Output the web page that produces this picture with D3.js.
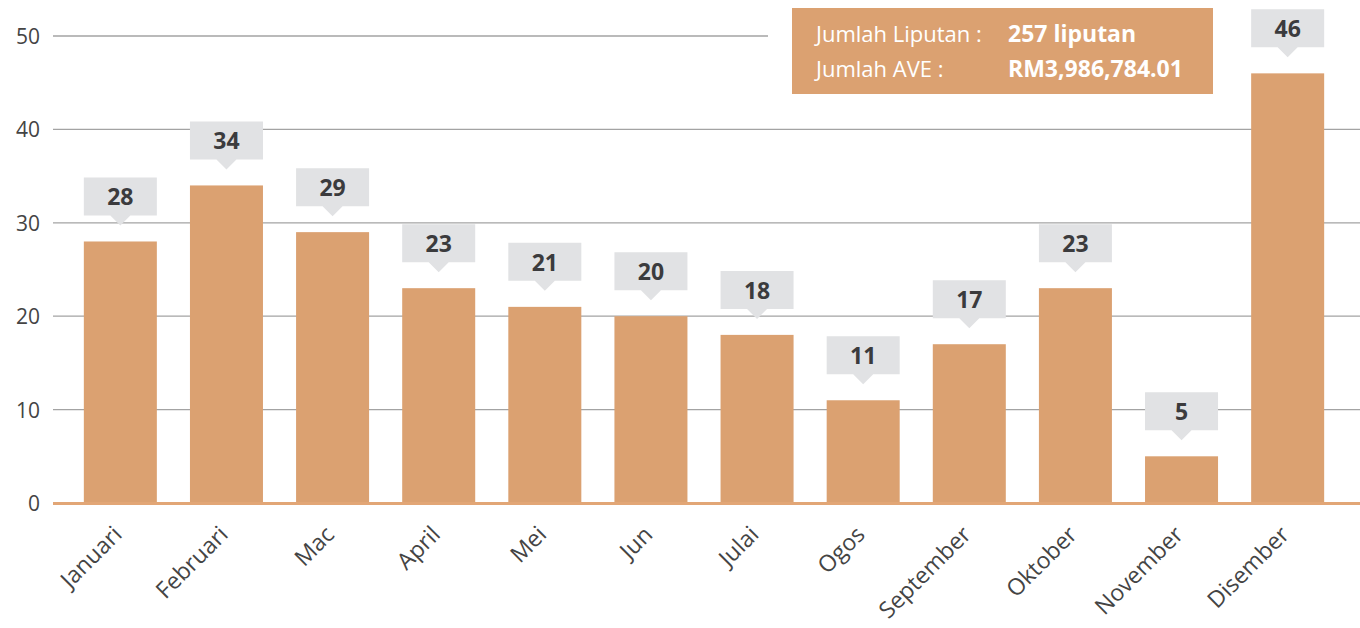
<!DOCTYPE html>
<html>
<head>
<meta charset="utf-8">
<script src="https://cdn.jsdelivr.net/npm/d3@7"></script>
<style>
  html, body { margin: 0; padding: 0; background: #fff; }
  svg { display: block; font-family: "Open Sans", "Noto Sans", sans-serif; }
</style>
</head>
<body>
<svg id="chart" width="1360" height="628"></svg>
<script>
// Monthly coverage counts
const months = ["Januari", "Februari", "Mac", "April", "Mei", "Jun", "Julai", "Ogos", "September", "Oktober", "November", "Disember"];
const coverage = [28, 34, 29, 23, 21, 20, 18, 11, 17, 23, 5, 46];
const yTicks = [0, 10, 20, 30, 40, 50];
const summaryLabels = ["Jumlah Liputan :", "Jumlah AVE :"];
const summaryValues = ["257 liputan", "RM3,986,784.01"];

const data = months.map((m, i) => ({ month: m, value: coverage[i] }));

const svg = d3.select("#chart");
const W = 1360, H = 628;
const plotLeft = 53, plotRight = 1360, plotTop = 36, plotBottom = 503;

const x = d3.scaleBand()
  .domain(months)
  .range([52, 1356])
  .paddingInner(0.312)
  .paddingOuter(0.3);

const y = d3.scaleLinear()
  .domain([0, 50])
  .range([plotBottom, plotTop]);

const barColor = "#dba171";

// Horizontal gridlines
svg.append("g")
  .selectAll("line")
  .data(yTicks.filter(t => t > 0))
  .join("line")
  .attr("x1", plotLeft)
  .attr("x2", plotRight)
  .attr("y1", d => y(d))
  .attr("y2", d => y(d))
  .attr("stroke", "#a3a3a3")
  .attr("stroke-width", 1.3);

// Y axis labels
const yAxis = d3.axisLeft(y).tickValues(yTicks).tickSize(0).tickPadding(0);
const yG = svg.append("g")
  .attr("transform", `translate(40,0)`)
  .call(yAxis);
yG.select(".domain").remove();
yG.selectAll("text")
  .attr("font-size", 21)
  .attr("fill", "#444")
  .attr("font-family", "'Open Sans', sans-serif")
  .attr("dy", "0.36em");

// White panel behind the summary box
svg.append("rect")
  .attr("x", 768).attr("y", 0)
  .attr("width", W - 768).attr("height", 100)
  .attr("fill", "#fff");

// Bars
svg.append("g")
  .selectAll("rect")
  .data(data)
  .join("rect")
  .attr("x", d => x(d.month))
  .attr("width", x.bandwidth())
  .attr("y", d => y(d.value))
  .attr("height", d => y(0) - y(d.value))
  .attr("fill", barColor);

// Baseline
svg.append("line")
  .attr("x1", plotLeft).attr("x2", plotRight)
  .attr("y1", y(0) + 0.5).attr("y2", y(0) + 0.5)
  .attr("stroke", "#e2a676")
  .attr("stroke-width", 3);

// Value callouts
const boxH = 38, gap = 26, tipH = 10, tipW = 20;
const callouts = svg.append("g")
  .selectAll("g")
  .data(data)
  .join("g")
  .attr("transform", d => `translate(${x(d.month)},${y(d.value) - gap - boxH})`);

callouts.append("path")
  .attr("d", () => {
    const w = x.bandwidth();
    const cx = w / 2;
    return `M0,0H${w}V${boxH}H${cx + tipW / 2}L${cx},${boxH + tipH}L${cx - tipW / 2},${boxH}H0Z`;
  })
  .attr("fill", "#e1e2e4");

callouts.append("text")
  .attr("x", x.bandwidth() / 2)
  .attr("y", 28)
  .attr("text-anchor", "middle")
  .attr("font-size", 23)
  .attr("font-weight", 700)
  .attr("fill", "#3b3b3d")
  .text(d => d.value);

// Month labels
const xAxis = d3.axisBottom(x).tickSize(0).tickPadding(0);
const xG = svg.append("g")
  .attr("transform", `translate(0,${plotBottom})`)
  .call(xAxis);
xG.select(".domain").remove();
xG.selectAll("text")
  .attr("font-size", 23)
  .attr("fill", "#444")
  .attr("font-family", "'Open Sans', sans-serif")
  .attr("text-anchor", "end")
  .attr("dy", null)
  .attr("y", null)
  .attr("transform", "translate(3,33) rotate(-45)");

// Summary box
const sum = svg.append("g").attr("transform", "translate(792,8)");
sum.append("rect")
  .attr("width", 421).attr("height", 86)
  .attr("fill", barColor);
sum.selectAll("text.lbl")
  .data(summaryLabels)
  .join("text")
  .attr("class", "lbl")
  .attr("x", 24)
  .attr("y", (d, i) => 34 + i * 35)
  .attr("font-size", 22)
  .attr("fill", "#fff")
  .text(d => d);
sum.selectAll("text.val")
  .data(summaryValues)
  .join("text")
  .attr("class", "val")
  .attr("x", 216)
  .attr("y", (d, i) => 34 + i * 35)
  .attr("font-size", 23)
  .attr("font-weight", 700)
  .attr("fill", "#fff")
  .text(d => d);
</script>
</body>
</html>
